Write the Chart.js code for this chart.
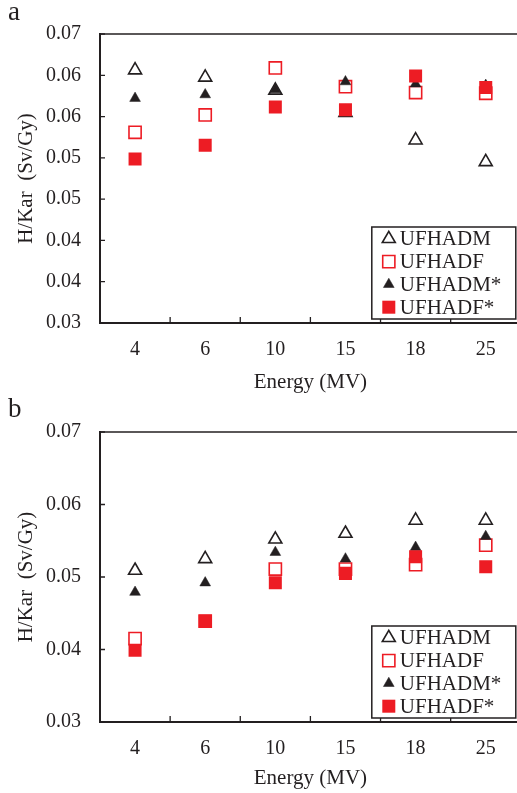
<!DOCTYPE html>
<html>
<head>
<meta charset="utf-8">
<script src="https://cdn.jsdelivr.net/npm/chart.js@4"></script>
<style>
  html, body { margin: 0; padding: 0; background: #fff; overflow: hidden; }
  .panel { position: absolute; left: 0; width: 517px; overflow: hidden; }
  .letter { position: absolute; left: 8px; font-family: 'Liberation Serif', serif; font-size: 27px; color: #231f20; z-index: 2; }
</style>
</head>
<body>
<div class="letter" style="top:-4px">a</div>
<div class="panel" style="top:0; height:393px"><canvas id="chartA" width="531" height="393"></canvas></div>
<div class="letter" style="top:393px">b</div>
<div class="panel" style="top:393px; height:400px"><canvas id="chartB" width="531" height="400"></canvas></div>

<script>
// Energy categories shared by both panels
const energies = ['4', '6', '10', '15', '18', '25'];
const seriesNames = ['UFHADM', 'UFHADF', 'UFHADM*', 'UFHADF*'];

// panel a
const a_ufhadm  = [0.0650, 0.0640, 0.0622, 0.0591, 0.0553, 0.0523];
const a_ufhadf  = [0.0564, 0.0588, 0.0653, 0.0627, 0.0619, 0.0618];
const a_ufhadmS = [0.0611, 0.0616, 0.0623, 0.0634, 0.0631, 0.0629];
const a_ufhadfS = [0.0527, 0.0546, 0.0599, 0.0595, 0.0642, 0.0626];

// panel b
const b_ufhadm  = [0.0509, 0.0525, 0.0552, 0.0560, 0.0578, 0.0578];
const b_ufhadf  = [0.0415, 0.0439, 0.0511, 0.0511, 0.0517, 0.0544];
const b_ufhadmS = [0.0479, 0.0492, 0.0534, 0.0525, 0.0541, 0.0556];
const b_ufhadfS = [0.0399, 0.0439, 0.0492, 0.0505, 0.0528, 0.0514];

const RED = '#ed1c24';
const INK = '#231f20';
const SERIF = "'Liberation Serif', 'Times New Roman', serif";

// marker look per series, in legend order
const MARKERS = [
  { pointStyle: 'triangle', radius: 7.5, fill: '#ffffff', stroke: INK, width: 1.6 },
  { pointStyle: 'rect', radius: 8.6, fill: '#ffffff', stroke: RED, width: 1.6 },
  { pointStyle: 'triangle', radius: 6.2, fill: INK, stroke: INK, width: 0.5 },
  { pointStyle: 'rect', radius: 9.2, fill: RED, stroke: RED, width: 0 },
];

// frame top line, inward tick marks and boxed legend inside the plot
const framePlugin = {
  id: 'frame',
  afterDraw(chart) {
    const { ctx, chartArea: area, scales: { x, y } } = chart;
    ctx.save();
    ctx.strokeStyle = INK;
    ctx.lineWidth = 1.5;
    ctx.beginPath();
    ctx.moveTo(area.left, area.top);
    ctx.lineTo(area.right, area.top);
    ctx.stroke();

    ctx.lineWidth = 1.3;
    ctx.beginPath();
    y.ticks.forEach((t, i) => {
      const py = y.getPixelForTick(i);
      ctx.moveTo(area.left, py);
      ctx.lineTo(area.left + 5, py);
    });
    for (let i = 0; i < energies.length - 1; i++) {
      const px = (x.getPixelForTick(i) + x.getPixelForTick(i + 1)) / 2;
      ctx.moveTo(px, area.bottom);
      ctx.lineTo(px, area.bottom - 6);
    }
    ctx.stroke();

    // legend box
    const w = 144, h = 92;
    const bx = area.right - 5 - w, by = area.bottom - 4 - h;
    ctx.fillStyle = '#fff';
    ctx.fillRect(bx, by, w, h);
    ctx.lineWidth = 1.5;
    ctx.strokeRect(bx, by, w, h);
    ctx.font = '21px ' + SERIF;
    ctx.textBaseline = 'middle';
    ctx.textAlign = 'left';
    seriesNames.forEach((name, i) => {
      const cy = by + 11.8 + i * 22.8;
      const m = MARKERS[i];
      ctx.fillStyle = m.fill;
      ctx.strokeStyle = m.stroke;
      ctx.lineWidth = m.width;
      Chart.helpers.drawPoint(ctx, { pointStyle: m.pointStyle, radius: m.radius, rotation: 0, borderWidth: m.width }, bx + 17, cy);
      ctx.fillStyle = INK;
      ctx.fillText(name, bx + 28, cy + 1);
    });
    ctx.restore();
  }
};

function makeDatasets(values) {
  return values.map((data, i) => ({
    label: seriesNames[i],
    data: data,
    showLine: false,
    pointStyle: MARKERS[i].pointStyle,
    pointRadius: MARKERS[i].radius,
    pointBackgroundColor: MARKERS[i].fill,
    pointBorderColor: MARKERS[i].stroke,
    pointBorderWidth: MARKERS[i].width,
    order: 4 - i,
  }));
}

function makeChart(id, values, opts) {
  return new Chart(document.getElementById(id), {
    type: 'line',
    data: { labels: energies, datasets: makeDatasets(values) },
    options: {
      responsive: false,
      animation: false,
      layout: { padding: { top: opts.top, right: 2, left: 0, bottom: 0 } },
      plugins: { legend: { display: false }, tooltip: { enabled: false } },
      scales: {
        x: {
          offset: true,
          grid: { display: false, drawTicks: false },
          border: { display: true, color: INK, width: 2 },
          ticks: { color: INK, font: { family: SERIF, size: 20 }, padding: 15 },
          title: { display: true, text: 'Energy (MV)', color: INK, font: { family: SERIF, size: 21, lineHeight: 1 }, padding: { top: 0, bottom: opts.titleGap } },
          afterFit: (s) => { s.height = opts.xHeight; },
        },
        y: {
          min: 0.03,
          max: 0.07,
          grid: { display: false, drawTicks: false },
          border: { display: true, color: INK, width: 2 },
          ticks: { count: opts.tickCount, color: INK, font: { family: SERIF, size: 20 }, padding: 19, callback: (v) => Number(v).toFixed(2) },
          title: { display: true, text: 'H/Kar  (Sv/Gy)', color: INK, font: { family: SERIF, size: 21, lineHeight: 1 }, padding: { top: 16, bottom: 0 } },
          afterFit: (s) => { s.width = 100; },
        },
      },
    },
    plugins: [framePlugin],
  });
}

makeChart('chartA', [a_ufhadm, a_ufhadf, a_ufhadmS, a_ufhadfS], { top: 34, xHeight: 70, tickCount: 8, titleGap: 0 });
makeChart('chartB', [b_ufhadm, b_ufhadf, b_ufhadmS, b_ufhadfS], { top: 39, xHeight: 71, tickCount: 5, titleGap: 4 });
</script>
</body>
</html>
